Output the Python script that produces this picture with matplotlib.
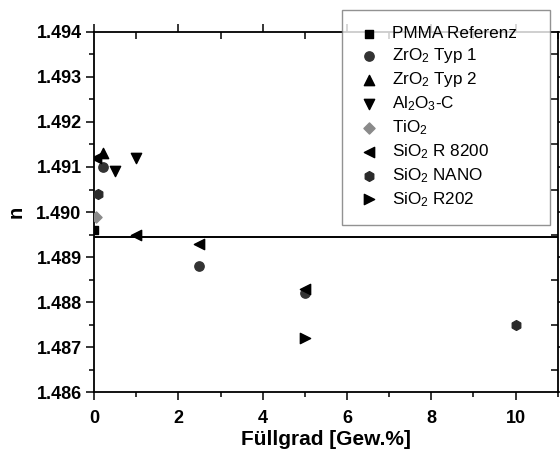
import matplotlib
matplotlib.use('Agg')
import matplotlib.pyplot as plt
from matplotlib.ticker import MultipleLocator, FormatStrFormatter

plt.rcParams['font.family'] = ['Liberation Sans', 'DejaVu Sans']
plt.rcParams['mathtext.fontset'] = 'custom'
plt.rcParams['mathtext.rm'] = 'Liberation Sans'
plt.rcParams['mathtext.it'] = 'Liberation Sans'

# Brechungsindex n über Füllgrad für die verschiedenen Füllstoffe
pmma_x = [0.0]
pmma_n = [1.4896]

zro2_1_x = [0.2, 2.5, 5.0]
zro2_1_n = [1.4910, 1.4888, 1.4882]

zro2_2_x = [0.2]
zro2_2_n = [1.4913]

al2o3_x = [0.5, 1.0]
al2o3_n = [1.4909, 1.4912]

tio2_x = [0.05]
tio2_n = [1.4899]

sio2_r8200_x = [0.05, 1.0, 2.5, 5.0]
sio2_r8200_n = [1.4912, 1.4895, 1.4893, 1.4883]

sio2_nano_x = [0.1, 10.0]
sio2_nano_n = [1.4904, 1.4875]

sio2_r202_x = [5.0]
sio2_r202_n = [1.4872]

pmma_line = 1.48944

fig = plt.figure(figsize=(5.6, 4.55), dpi=100)
ax = fig.add_axes([0.168, 0.138, 0.828, 0.792])

ax.axhline(pmma_line, color='black', lw=1.4, zorder=1)

ax.scatter(pmma_x, pmma_n, marker='s', s=34, color='black', label='PMMA Referenz', zorder=3)
ax.scatter(zro2_1_x, zro2_1_n, marker='o', s=45, color='#333333', label='ZrO$_2$ Typ 1', zorder=3)
ax.scatter(zro2_2_x, zro2_2_n, marker='^', s=55, color='black', label='ZrO$_2$ Typ 2', zorder=3)
ax.scatter(al2o3_x, al2o3_n, marker='v', s=55, color='black', label='Al$_2$O$_3$-C', zorder=3)
ax.scatter(tio2_x, tio2_n, marker='D', s=32, color='#8a8a8a', label='TiO$_2$', zorder=3)
ax.scatter(sio2_r8200_x, sio2_r8200_n, marker='<', s=55, color='black', label='SiO$_2$ R 8200', zorder=3)
ax.scatter(sio2_nano_x, sio2_nano_n, marker='h', s=50, color='#2a2a2a', label='SiO$_2$ NANO', zorder=3)
ax.scatter(sio2_r202_x, sio2_r202_n, marker='>', s=55, color='black', label='SiO$_2$ R202', zorder=3)

ax.set_xlim(0, 11)
ax.set_ylim(1.486, 1.494)
ax.xaxis.set_major_locator(MultipleLocator(2))
ax.xaxis.set_minor_locator(MultipleLocator(1))
ax.yaxis.set_major_locator(MultipleLocator(0.001))
ax.yaxis.set_minor_locator(MultipleLocator(0.0005))
ax.yaxis.set_major_formatter(FormatStrFormatter('%.3f'))

for s in ax.spines.values():
    s.set_linewidth(1.3)

ax.tick_params(which='both', top=True, right=True, width=1.1,
               labeltop=False, labelright=False)
ax.tick_params(which='major', direction='out', length=6)
ax.tick_params(which='minor', direction='out', length=3.5)
# Ticks oben und rechts nach innen
for t in ax.xaxis.get_major_ticks() + ax.xaxis.get_minor_ticks():
    t.tick2line.set_marker(3)
    t.tick2line.set_markersize(5)
for t in ax.yaxis.get_major_ticks() + ax.yaxis.get_minor_ticks():
    t.tick2line.set_marker(0)
    t.tick2line.set_markersize(5)

for lbl in ax.get_xticklabels() + ax.get_yticklabels():
    lbl.set_fontsize(13)
    lbl.set_fontweight('bold')
ax.tick_params(axis='x', pad=7)
ax.tick_params(axis='y', pad=3)

ax.set_xlabel('Füllgrad [Gew.%]', fontsize=15, fontweight='bold', labelpad=2)
ax.set_ylabel('n', fontsize=14.5, fontweight='bold', labelpad=8)

leg = ax.legend(loc='upper left', bbox_to_anchor=(0.611, 0.478, 0.371, 0.5),
                bbox_transform=fig.transFigure, mode='expand',
                frameon=True, fancybox=False, edgecolor='#777777', fontsize=12.3,
                handletextpad=0.75, labelspacing=0.3, borderpad=0.95, borderaxespad=0,
                handlelength=1.2, scatterpoints=1, markerscale=1.0)
leg.get_frame().set_linewidth(1.0)
leg.set_zorder(10)

fig.savefig('out.png', dpi=100)
